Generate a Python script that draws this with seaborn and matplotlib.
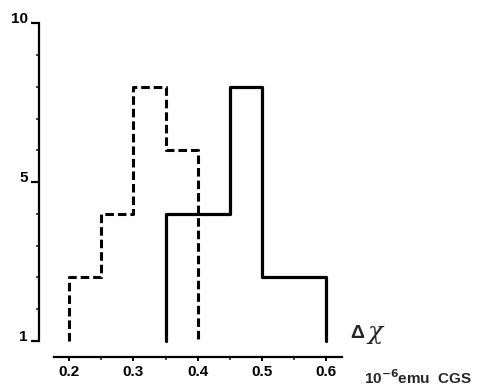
import numpy as np
import pandas as pd
import matplotlib
matplotlib.use("Agg")
import matplotlib.pyplot as plt
from matplotlib.ticker import MultipleLocator, FixedLocator
import seaborn as sns

# ==========================================
# data: histogram bin edges and counts
# ==========================================
dashed_edges = [0.20, 0.25, 0.30, 0.35, 0.40]
dashed_counts = [2, 4, 8, 6]

solid_edges = [0.35, 0.45, 0.50, 0.60]
solid_counts = [4, 8, 2]

x_ticks = [0.2, 0.3, 0.4, 0.5, 0.6]
x_ticklabels = ["0.2", "0.3", "0.4", "0.5", "0.6"]
y_ticks = [0, 5, 10]
y_ticklabels = ["1", "5", "10"]


def outline(edges, counts):
    # closed step outline: drop to zero at both ends
    x = np.repeat(edges, 2)
    y = np.concatenate([[0], np.repeat(counts, 2), [0]])
    return pd.DataFrame({"x": x, "y": y})


sns.set_theme(style="white")
plt.rcParams["font.family"] = ["Liberation Sans", "DejaVu Sans"]

fig = plt.figure(figsize=(4.79, 3.86), dpi=100)
ax = fig.add_axes([39 / 479, 1 - 357 / 386, (341.7 - 39) / 479, (357 - 23.3) / 386])

sns.lineplot(data=outline(dashed_edges, dashed_counts), x="x", y="y", ax=ax,
             sort=False, estimator=None, color="black", linewidth=2.2)
ax.lines[-1].set_linestyle((0, (2.8, 1.3)))
sns.lineplot(data=outline(solid_edges, solid_counts), x="x", y="y", ax=ax,
             sort=False, estimator=None, color="black", linewidth=2.3)

ax.set_xlim(0.1528, 0.6245)
ax.set_ylim(-0.51, 10)

for s in ["top", "right"]:
    ax.spines[s].set_visible(False)
ax.spines["left"].set_bounds(0, 10)
ax.spines["bottom"].set_bounds(0.176, 0.6245)
for s in ["left", "bottom"]:
    ax.spines[s].set_color("black")
    ax.spines[s].set_linewidth(1.6)

ax.set_xticks(x_ticks)
ax.set_xticklabels(x_ticklabels, fontweight="bold", fontsize=11)
ax.xaxis.set_minor_locator(FixedLocator([0.25, 0.35, 0.45, 0.55]))
ax.set_yticks(y_ticks)
ax.set_yticklabels(y_ticklabels, fontweight="bold", fontsize=11)
ax.yaxis.set_minor_locator(MultipleLocator(1))

ax.tick_params(axis="x", which="major", direction="out", length=3, width=1.4,
               bottom=True, pad=3, colors="black")
ax.tick_params(axis="x", which="minor", direction="out", length=2, width=1.2, bottom=True)
ax.tick_params(axis="y", which="major", direction="out", length=6, width=1.6,
               left=True, pad=2, colors="black")
ax.tick_params(axis="y", which="minor", direction="out", length=2, width=1.2, left=True)
for lab in ax.get_yticklabels():
    lab.set_verticalalignment("baseline")

ax.set_xlabel("")
ax.set_ylabel("")

fig.text(350 / 479, 1 - 333 / 386, "Δ", fontsize=14, fontweight="bold",
         ha="left", va="center")
fig.text(367 / 479, 1 - 333 / 386, "χ", fontsize=18, fontstyle="italic",
         family="DejaVu Serif", ha="left", va="center")
fig.text(364 / 479, 1 - 378 / 386, "10$^{\\mathbf{-6}}$emu  CGS", fontsize=11,
         fontweight="bold", ha="left", va="center")

fig.savefig("out.png", dpi=100)
